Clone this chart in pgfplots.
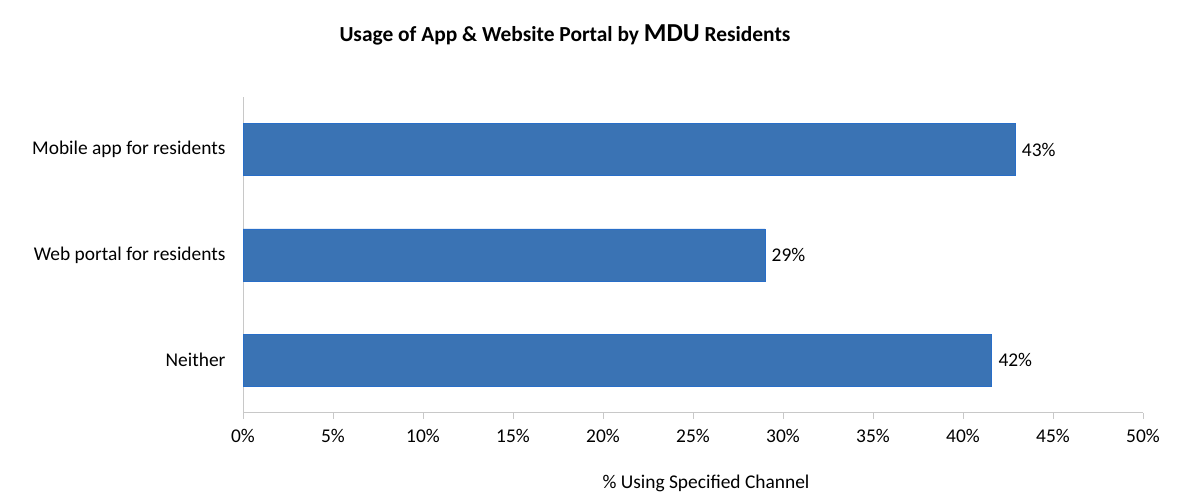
\documentclass[border=0pt]{standalone}
\usepackage{fontspec}
\setmainfont{Carlito}
\usepackage{pgfplots}
\pgfplotsset{compat=1.18}
\definecolor{barfill}{RGB}{58,115,180}
\definecolor{barline}{RGB}{40,110,200}
\definecolor{axisgray}{RGB}{200,200,200}
\begin{document}
\begin{tikzpicture}[x=1bp,y=1bp]
\useasboundingbox (0,0) rectangle (1200,501);
\begin{axis}[
  at={(243bp,88bp)}, anchor=south west,
  scale only axis, width=900bp, height=316bp,
  xbar, bar width=52bp,
  xmin=0, xmax=50, ymin=-0.5, ymax=2.5,
  xtick={0,5,...,50},
  xticklabel={\pgfmathprintnumber{\tick}\%},
  ytick={0,1,2},
  yticklabels={Neither, Web portal for residents, Mobile app for residents},
  axis x line*=bottom, axis y line*=left,
  axis line style={axisgray, line width=1bp},
  x axis line style={-}, y axis line style={-},
  xtick style={axisgray, line width=1bp},
  ytick style={draw=none},
  tick align=outside,
  major tick length=6bp,
  /pgf/number format/assume math mode=true,
  tick label style={font=\fontsize{19.5}{23}\selectfont, text=black},
  xticklabel style={yshift=-7bp},
  yticklabel style={xshift=-8bp},
  nodes near coords={\pgfmathprintnumber[fixed,precision=0]{\pgfplotspointmeta}\%},
  point meta=x,
  every node near coord/.append style={font=\fontsize{19.5}{23}\selectfont, anchor=west, xshift=3bp, text=black},
  clip=false,
]
\addplot[fill=barfill, draw=barline, line width=0.8bp] coordinates {(41.6,0) (29.0,1) (42.9,2)};
\end{axis}
\node[font=\fontsize{21.5}{26}\selectfont\bfseries] at (565,466) {Usage of App \& Website Portal by {\fontsize{26}{30}\selectfont MDU} Residents};
\node[font=\fontsize{19.5}{23}\selectfont] at (706,18) {\% Using Specified Channel};
\end{tikzpicture}
\end{document}
